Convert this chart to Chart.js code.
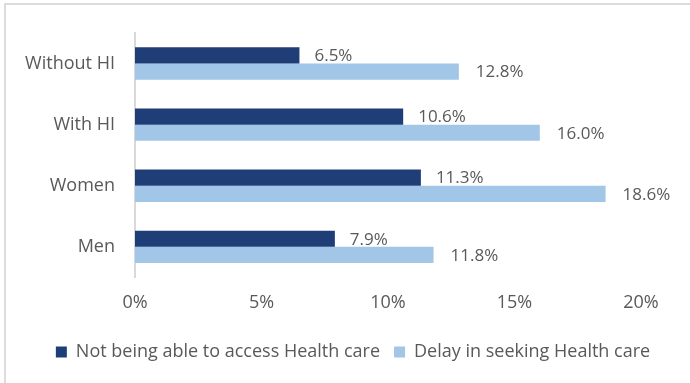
<!DOCTYPE html>
<html>
<head>
<meta charset="utf-8">
<script src="https://cdn.jsdelivr.net/npm/chart.js@4.4.1/dist/chart.umd.min.js"></script>
<style>
  html, body { margin: 0; padding: 0; background: #ffffff; }
  #wrap { position: relative; width: 690px; height: 383px; }
</style>
</head>
<body>
<div id="wrap"><canvas id="c" width="690" height="383"></canvas></div>
<script>
// Groups shown on the category axis, top to bottom
const categories = ['Without HI', 'With HI', 'Women', 'Men'];
// Share of people (%) per group
const notAbleToAccess = [6.5, 10.6, 11.3, 7.9];
const delayInSeeking = [12.8, 16.0, 18.6, 11.8];
const seriesNames = ['Not being able to access Health care', 'Delay in seeking Health care'];
const xTicks = [0, 5, 10, 15, 20];

const TEXT = '#595959';
const FONT = "'Open Sans', 'Noto Sans', sans-serif";

// Thin frame along the top and left edges
const framePlugin = {
  id: 'frame',
  beforeDraw(chart) {
    const ctx = chart.ctx;
    ctx.save();
    ctx.fillStyle = '#dcdcdc';
    ctx.fillRect(4, 3, chart.width - 4, 2);
    ctx.fillRect(4, 3, 2, chart.height - 3);
    ctx.restore();
  }
};

// Value labels to the right of each bar
const valueLabels = {
  id: 'valueLabels',
  afterDatasetsDraw(chart) {
    const ctx = chart.ctx;
    ctx.save();
    ctx.font = `17px ${FONT}`;
    ctx.fillStyle = TEXT;
    ctx.textAlign = 'left';
    ctx.textBaseline = 'middle';
    chart.data.datasets.forEach((ds, i) => {
      const meta = chart.getDatasetMeta(i);
      meta.data.forEach((bar, j) => {
        const v = ds.data[j];
        ctx.fillText(v.toFixed(1) + '%', bar.x + (i === 0 ? 15 : 17), bar.y + 1);
      });
    });
    ctx.restore();
  }
};

new Chart(document.getElementById('c'), {
  type: 'bar',
  data: {
    labels: categories,
    datasets: [
      { label: seriesNames[0], data: notAbleToAccess, backgroundColor: '#1f3e77' },
      { label: seriesNames[1], data: delayInSeeking, backgroundColor: '#a2c6e7' }
    ]
  },
  options: {
    indexAxis: 'y',
    responsive: false,
    animation: false,
    devicePixelRatio: 1,
    categoryPercentage: 0.53,
    barPercentage: 1.0,
    layout: { padding: { top: 33, right: 0, left: 16, bottom: 12 } },
    scales: {
      x: {
        min: 0,
        max: 20,
        afterBuildTicks(scale) { scale.ticks = xTicks.map(v => ({ value: v })); },
        afterFit(scale) { scale.paddingRight = 49; },
        grid: { display: false, drawTicks: false },
        border: { display: false },
        ticks: {
          padding: 15,
          color: TEXT,
          font: { family: FONT, size: 18 },
          callback: v => v + '%'
        }
      },
      y: {
        afterFit(scale) { scale.width = 119; },
        grid: { display: false, drawTicks: false },
        border: { display: true, color: '#d9d9d9', width: 2 },
        ticks: {
          padding: 20,
          color: TEXT,
          font: { family: FONT, size: 18 }
        }
      }
    },
    plugins: {
      legend: {
        position: 'bottom',
        labels: {
          color: TEXT,
          font: { family: FONT, size: 18 },
          boxWidth: 11,
          boxHeight: 11,
          padding: 14
        }
      },
      tooltip: { enabled: false }
    }
  },
  plugins: [framePlugin, valueLabels]
});
</script>
</body>
</html>
